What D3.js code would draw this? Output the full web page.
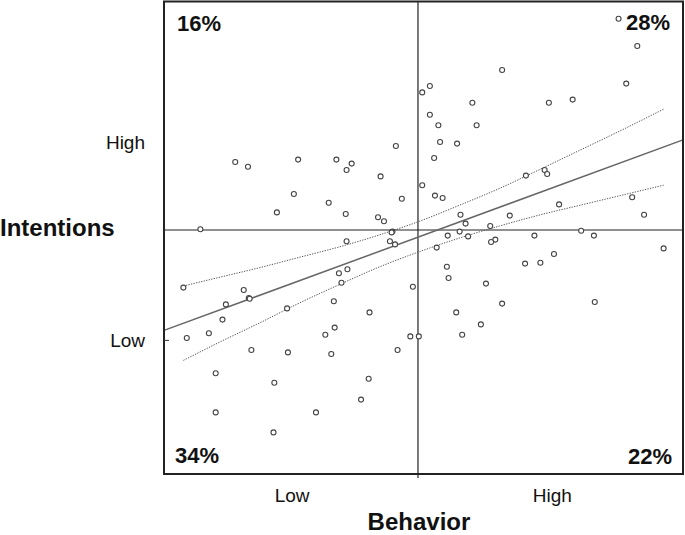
<!DOCTYPE html>
<html><head><meta charset="utf-8">
<script src="https://cdn.jsdelivr.net/npm/d3@7"></script>
<style>body{margin:0;background:#fff}svg text{font-family:"Liberation Sans",Arial,sans-serif;fill:#111}</style>
</head><body>
<svg id="c" width="685" height="535"></svg>
<script>
// Behavior (x) and Intentions (y), standardized scores
const behavior = [
 -2.15,-2.00,-1.41,-0.96,-0.78,-0.84,-0.26,-0.44,-1.46,-1.66,-1.05,-0.85,-0.19,-0.47,-0.40,-2.56,-0.30,-0.31,-0.84,-0.33,
 2.36,2.58,2.45,0.99,0.05,0.14,0.64,1.54,1.82,0.14,0.24,0.69,0.26,0.46,0.19,0.05,0.20,0.29,1.27,1.49,1.52,1.66,2.52,2.66,0.50,1.08,0.56,0.85,
 0.49,0.35,0.59,1.37,1.92,2.07,0.91,0.86,0.22,2.89,0.34,0.36,1.26,1.44,1.60,0.80,0.99,2.08,0.45,0.74,0.52,
 -0.06,-0.09,0.01,
 -0.27,-0.93,-0.83,-0.90,-2.76,-2.05,-1.99,-1.98,-2.26,-2.30,-1.54,-0.99,-0.57,-2.72,-2.46,-1.96,-1.53,-1.09,-0.98,-1.02,-0.24,-2.38,-1.69,-0.58,-0.67,-2.38,-1.20,-1.70
];
const intentions = [
 0.85,0.79,0.88,0.88,0.83,0.75,1.05,0.67,0.45,0.22,0.34,0.20,0.39,0.16,0.11,0.01,-0.02,-0.03,-0.14,-0.14,
 2.64,2.30,1.83,2.00,1.72,1.80,1.59,1.59,1.63,1.44,1.31,1.31,1.10,1.08,0.90,0.56,0.43,0.40,0.68,0.75,0.70,0.32,0.41,0.19,0.19,0.18,0.08,0.05,
 -0.02,-0.07,-0.08,-0.07,-0.01,-0.07,-0.12,-0.15,-0.22,-0.23,-0.46,-0.60,-0.42,-0.41,-0.30,-0.67,-0.92,-0.90,-1.03,-1.18,-1.31,
 -0.71,-1.33,-1.33,
 -0.18,-0.54,-0.49,-0.66,-0.72,-0.75,-0.85,-0.86,-0.93,-1.12,-0.98,-0.89,-1.03,-1.35,-1.29,-1.50,-1.53,-1.31,-1.22,-1.55,-1.50,-1.79,-1.91,-1.86,-2.12,-2.28,-2.28,-2.53
];
const xTickLabels = ["Low","High"];
const xTickValues = [-1.48, 1.58];
const yTickLabels = ["Low","High"];
const yTickValues = [-1.38, 1.10];
const quadrantLabels = ["16%","28%","34%","22%"];
const fitIntercept = -0.09, fitSlope = 0.39;
const bandX     = [-2.76,-2.33,-1.86,-1.39,-0.92,-0.45,0.02,0.49,0.96,1.44,1.91,2.38,2.89];
const bandUpper = [-0.70,-0.59,-0.47,-0.34,-0.21,-0.06,0.11,0.31,0.52,0.76,1.00,1.24,1.51];
const bandLower = [-1.63,-1.40,-1.16,-0.91,-0.68,-0.46,-0.27,-0.10,0.05,0.19,0.31,0.43,0.56];

const svg = d3.select("#c");
const L=164, R=683, T=1.5, B=474;
const x = d3.scaleLinear().domain([-2.988, 3.118]).range([L, R]);
const y = d3.scaleLinear().domain([-3.05, 2.856]).range([B, T]);

// mean lines
svg.append("line").attr("x1",x(0)).attr("x2",x(0)).attr("y1",T).attr("y2",B+4)
  .attr("stroke","#222").attr("stroke-width",1.2);
svg.append("line").attr("x1",L).attr("x2",R).attr("y1",y(0)).attr("y2",y(0))
  .attr("stroke","#222").attr("stroke-width",1.2);

// regression line
const xd = x.domain();
svg.append("line")
  .attr("x1",x(xd[0])).attr("y1",y(fitIntercept+fitSlope*xd[0]))
  .attr("x2",x(xd[1])).attr("y2",y(fitIntercept+fitSlope*xd[1]))
  .attr("stroke","#666").attr("stroke-width",1.5);

// confidence bands
const line = d3.line().curve(d3.curveMonotoneX);
[bandUpper, bandLower].forEach(b => {
  svg.append("path")
    .attr("d", line(bandX.map((v,i)=>[x(v), y(b[i])])))
    .attr("fill","none").attr("stroke","#555").attr("stroke-width",1)
    .attr("stroke-dasharray","1.3,1.3");
});

// points
svg.append("g").selectAll("circle").data(behavior).join("circle")
  .attr("cx",(d)=>x(d)).attr("cy",(d,i)=>y(intentions[i])).attr("r",2.5)
  .attr("fill","#fff").attr("stroke","#444").attr("stroke-width",1.1);

// frame
svg.append("rect").attr("x",L).attr("y",T).attr("width",R-L).attr("height",B-T)
  .attr("fill","none").attr("stroke","#222").attr("stroke-width",2);
// small tick
svg.append("line").attr("x1",L).attr("x2",L+5).attr("y1",y(yTickValues[0])).attr("y2",y(yTickValues[0]))
  .attr("stroke","#333").attr("stroke-width",1);

// tick labels
svg.selectAll("text.xt").data(xTickLabels).join("text").attr("class","xt")
  .attr("x",(d,i)=>x(xTickValues[i])).attr("y",502).attr("text-anchor","middle")
  .style("font-size","19px").text(d=>d);
svg.selectAll("text.yt").data(yTickLabels).join("text").attr("class","yt")
  .attr("x",145).attr("y",(d,i)=>y(yTickValues[i])+7).attr("text-anchor","end")
  .style("font-size","19px").text(d=>d);

// axis titles
svg.append("text").attr("x",x(0)+1).attr("y",530).attr("text-anchor","middle")
  .style("font-size","24px").style("font-weight","bold").text("Behavior");
svg.append("text").attr("x",0).attr("y",236).attr("text-anchor","start")
  .style("font-size","24px").style("font-weight","bold").text("Intentions");

// quadrant labels
const qpos = [[177,31,"start"],[670,30,"end"],[175,463,"start"],[672,464,"end"]];
svg.selectAll("text.q").data(quadrantLabels).join("text").attr("class","q")
  .attr("x",(d,i)=>qpos[i][0]).attr("y",(d,i)=>qpos[i][1]).attr("text-anchor",(d,i)=>qpos[i][2])
  .style("font-size","22px").style("font-weight","bold").text(d=>d);
</script>
</body></html>
